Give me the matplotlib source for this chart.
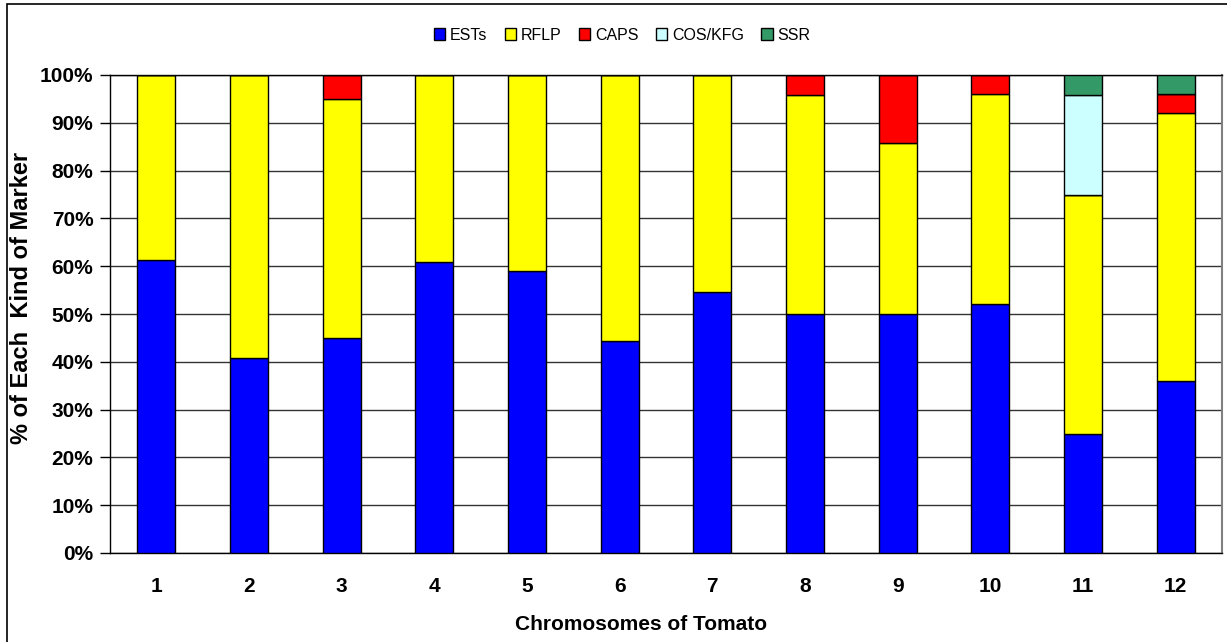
import numpy as np
import matplotlib
matplotlib.use("Agg")
import matplotlib.pyplot as plt
from matplotlib.patches import Rectangle

plt.rcParams['font.family'] = ['Liberation Sans', 'DejaVu Sans']

# percent of each marker type per tomato chromosome
chromosomes = ['1', '2', '3', '4', '5', '6', '7', '8', '9', '10', '11', '12']
ests = [61.3, 40.7, 45.0, 60.9, 59.1, 44.4, 54.5, 50.0, 50.0, 52.0, 25.0, 36.0]
rflp = [38.7, 59.3, 50.0, 39.1, 40.9, 55.6, 45.5, 45.8, 35.7, 44.0, 50.0, 56.0]
caps = [0, 0, 5.0, 0, 0, 0, 0, 4.2, 14.3, 4.0, 0, 4.0]
cos_kfg = [0, 0, 0, 0, 0, 0, 0, 0, 0, 0, 20.8, 0]
ssr = [0, 0, 0, 0, 0, 0, 0, 0, 0, 0, 4.2, 4.0]

series = [('ESTs', ests, '#0000ff'),
          ('RFLP', rflp, '#ffff00'),
          ('CAPS', caps, '#ff0000'),
          ('COS/KFG', cos_kfg, '#ccffff'),
          ('SSR', ssr, '#339966')]

fig = plt.figure(figsize=(12.27, 6.42), dpi=100)
ax = fig.add_axes([110 / 1227, 1 - 553 / 642, 1112 / 1227, 478 / 642])

x = np.arange(len(chromosomes))
bottom = np.zeros(len(chromosomes))
handles = []
for name, vals, col in series:
    vals = np.array(vals)
    b = ax.bar(x, vals, width=0.41, bottom=bottom, color=col,
               edgecolor='black', linewidth=1.0, label=name, zorder=3)
    handles.append(b)
    bottom += vals

ax.set_xlim(-0.5, len(chromosomes) - 0.5)
ax.set_ylim(0, 100)
ax.set_yticks(np.arange(0, 101, 10))
ax.set_yticklabels([f'{v}%' for v in range(0, 101, 10)],
                   fontsize=15, fontweight='bold')
ax.set_xticks(x)
ax.set_xticklabels(chromosomes, fontsize=15, fontweight='bold')
ax.tick_params(axis='x', length=0, pad=17)
ax.tick_params(axis='y', length=7, width=1, pad=5, color='black')
ax.yaxis.grid(True, color='#333333', linewidth=1.0, zorder=0)
ax.set_axisbelow(True)

for side in ['left', 'bottom', 'top']:
    ax.spines[side].set_color('black')
    ax.spines[side].set_linewidth(1.0)
ax.spines['right'].set_color('#808080')
ax.spines['right'].set_linewidth(1.5)

fig.text(641 / 1227, 1 - 624 / 642, 'Chromosomes of Tomato', fontsize=15,
         fontweight='bold', ha='center', va='center')
fig.text(22 / 1227, 1 - 298 / 642, '% of Each  Kind of Marker', fontsize=17,
         fontweight='bold', ha='center', va='center', rotation=90)

leg = fig.legend(handles=handles, loc='center', bbox_to_anchor=(622 / 1227, 1 - 35 / 642),
                 ncol=5, frameon=False, fontsize=11.5, handlelength=0.7,
                 handleheight=0.7, handletextpad=0.3, columnspacing=1.1)

# outer chart frame
fig.patches.append(Rectangle((7 / 1227, -0.1), 1.2, 1.1 - 4 / 642,
                             transform=fig.transFigure, fill=False,
                             edgecolor='black', linewidth=1.2))

fig.savefig('out.png', dpi=100)
